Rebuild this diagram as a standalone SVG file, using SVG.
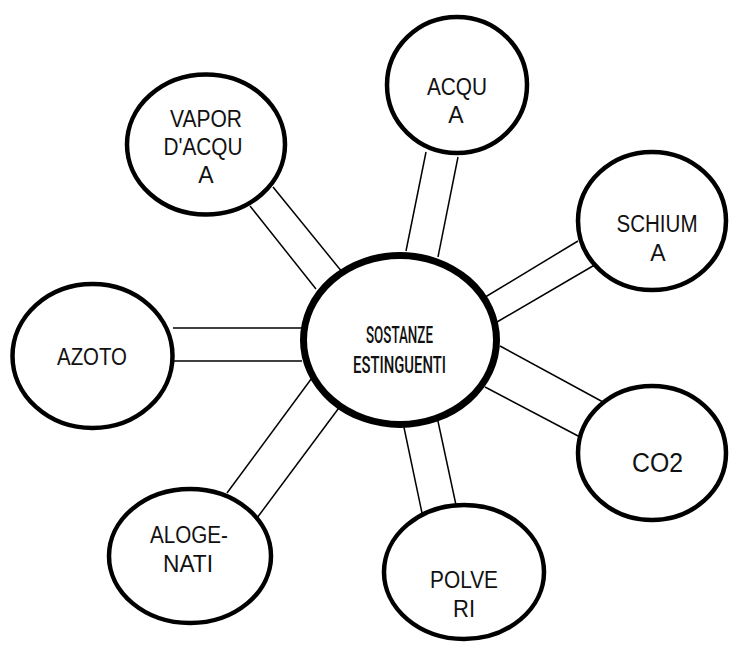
<svg xmlns="http://www.w3.org/2000/svg" width="733" height="647" viewBox="0 0 733 647">
<style>
.node{fill:#fff;stroke:#000;stroke-width:4.5}
.hub{fill:#fff;stroke:#000;stroke-width:7}
.lbl{font-family:"Liberation Sans",Arial,sans-serif;font-size:23px;fill:#111;text-anchor:middle}
.hubt{font-family:"Roboto","DejaVu Sans",sans-serif;font-size:23px;font-weight:500;fill:#111;text-anchor:middle}
.c line{stroke:#000;stroke-width:1.5}
</style>
<rect width="733" height="647" fill="#fff"/>
<g class="c" id="connectors">
<line x1="250" y1="206" x2="316" y2="289"/>
<line x1="273" y1="187" x2="347" y2="278"/>
<line x1="426" y1="152" x2="406" y2="251"/>
<line x1="458" y1="157" x2="438" y2="257"/>
<line x1="578" y1="241" x2="477" y2="302"/>
<line x1="598" y1="263" x2="497" y2="322"/>
<line x1="500" y1="346" x2="603" y2="402"/>
<line x1="485" y1="387" x2="580" y2="437"/>
<line x1="173" y1="328" x2="302" y2="328"/>
<line x1="173" y1="361" x2="302" y2="361"/>
<line x1="320" y1="367" x2="227" y2="493"/>
<line x1="350" y1="393" x2="257" y2="518"/>
<line x1="402" y1="418" x2="422" y2="513"/>
<line x1="436" y1="412" x2="456" y2="505"/>
</g>
<g id="vapor">
<ellipse class="node" cx="206" cy="144.5" rx="79" ry="70"/>
<text class="lbl" x="206" y="127" textLength="72" lengthAdjust="spacingAndGlyphs">VAPOR</text>
<text class="lbl" x="203" y="155" textLength="79" lengthAdjust="spacingAndGlyphs">D'ACQU</text>
<text class="lbl" x="206" y="183">A</text>
</g>
<g id="acqua">
<ellipse class="node" cx="457" cy="85" rx="70" ry="68"/>
<text class="lbl" x="457" y="95" textLength="60" lengthAdjust="spacingAndGlyphs">ACQU</text>
<text class="lbl" x="456" y="123">A</text>
</g>
<g id="schiuma">
<ellipse class="node" cx="652" cy="221" rx="74" ry="69"/>
<text class="lbl" x="657" y="232" textLength="81" lengthAdjust="spacingAndGlyphs">SCHIUM</text>
<text class="lbl" x="658" y="261">A</text>
</g>
<g id="azoto">
<ellipse class="node" cx="92.5" cy="356" rx="80" ry="72"/>
<text class="lbl" x="92" y="365" textLength="70" lengthAdjust="spacingAndGlyphs">AZOTO</text>
</g>
<g id="co2">
<ellipse class="node" cx="652" cy="453" rx="74" ry="67"/>
<text class="lbl" x="657.5" y="472" style="font-size:27px" textLength="51" lengthAdjust="spacingAndGlyphs">CO2</text>
</g>
<g id="polveri">
<ellipse class="node" cx="464" cy="572" rx="80" ry="67"/>
<text class="lbl" x="464" y="588" textLength="68" lengthAdjust="spacingAndGlyphs">POLVE</text>
<text class="lbl" x="464" y="617" textLength="22" lengthAdjust="spacingAndGlyphs">RI</text>
</g>
<g id="alogenati">
<ellipse class="node" cx="190" cy="556" rx="81" ry="67"/>
<text class="lbl" x="189" y="543" textLength="78" lengthAdjust="spacingAndGlyphs">ALOGE-</text>
<text class="lbl" x="188" y="572" textLength="50" lengthAdjust="spacingAndGlyphs">NATI</text>
</g>
<g id="hub">
<ellipse class="hub" cx="400" cy="340" rx="96.5" ry="84.5"/>
<text class="hubt" x="399.5" y="343" textLength="67" lengthAdjust="spacingAndGlyphs">SOSTANZE</text>
<text class="hubt" x="399.5" y="373" textLength="93" lengthAdjust="spacingAndGlyphs">ESTINGUENTI</text>
</g>
</svg>
